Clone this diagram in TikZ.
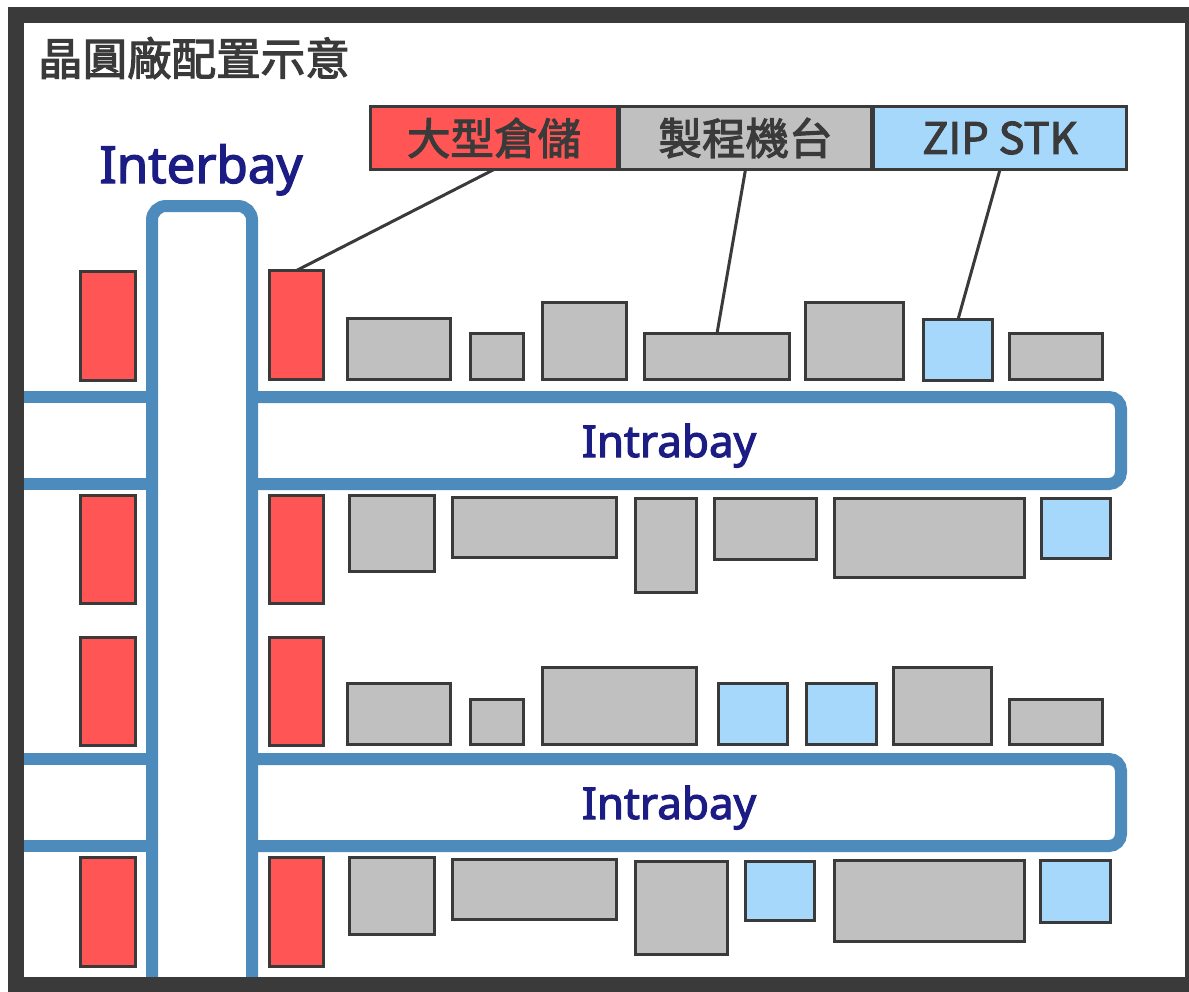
\documentclass[tikz,border=0pt]{standalone}
\usepackage{fontspec}
\newfontfamily\cjk[FakeBold=2.5]{Noto Sans CJK TC}
\newfontfamily\lat[FakeBold=2.5]{Noto Sans}
\definecolor{frame}{HTML}{3A3A3A}
\definecolor{loopc}{HTML}{4D8BBD}
\definecolor{redf}{HTML}{FF5555}
\definecolor{grayf}{HTML}{C0C0C0}
\definecolor{bluef}{HTML}{A6D8FC}
\definecolor{navy}{HTML}{1C1C85}
\tikzset{
  boxbase/.style={draw=frame, line width=3pt, inner sep=0pt, outer sep=0pt},
  redbox/.style={boxbase, fill=redf},
  graybox/.style={boxbase, fill=grayf},
  bluebox/.style={boxbase, fill=bluef},
  track/.style={draw=loopc, line width=12pt},
  leader/.style={draw=frame, line width=3pt},
  legtext/.style={text=frame, font=\cjk\fontsize{43.5}{48}\selectfont},
  looplabel/.style={text=navy, font=\lat\fontsize{44}{50}\selectfont, anchor=base}
}
\newcommand\mybox[6]{\node[#2, minimum width={#5-#3-3}, minimum height={#6-#4-3}] (#1) at ({(#3+#5)/2},{(#4+#6)/2}) {};}
\begin{document}
\begin{tikzpicture}[x=1pt,y=-1pt]
\useasboundingbox (0,0) rectangle (1189,991);
\clip (0,0) rectangle (1189,991);
\fill[white] (0,0) rectangle (1189,991);
% title
\node[anchor=west, inner sep=0pt, text=frame, font=\cjk\fontsize{44.5}{48}\selectfont] (title) at (38,58) {晶圓廠配置示意};
% interbay loop
\draw[track, rounded corners=14pt] (152,990) -- (152,206) -- (252,206) -- (252,990);
\draw[track] (16,397) -- (152,397);
\draw[track] (16,484) -- (152,484);
\draw[track] (16,759) -- (152,759);
\draw[track] (16,846) -- (152,846);
% intrabay loops
\draw[track, rounded corners=12pt] (252,397) -- (1121,397) -- (1121,484) -- (252,484);
\draw[track, rounded corners=12pt] (252,759) -- (1121,759) -- (1121,846) -- (252,846);
\node[looplabel, font=\lat\fontsize{51}{58}\selectfont] (inter) at (201,183) {Interbay};
\node[looplabel] (intra1) at (669,457) {Intrabay};
\node[looplabel] (intra2) at (669,819) {Intrabay};
% red stockers
\mybox{l1}{redbox}{79}{270}{137}{382}
\mybox{l2}{redbox}{79}{494}{137}{605}
\mybox{l3}{redbox}{79}{636}{137}{747}
\mybox{l4}{redbox}{79}{856}{137}{968}
\mybox{r1}{redbox}{268}{269}{325}{381}
\mybox{r2}{redbox}{268}{494}{325}{605}
\mybox{r3}{redbox}{268}{636}{325}{747}
\mybox{r4}{redbox}{268}{856}{325}{968}
% row 1
\mybox{a1}{graybox}{346}{317}{452}{381}
\mybox{a2}{graybox}{469}{332}{525}{381}
\mybox{a3}{graybox}{541}{301}{628}{381}
\mybox{a4}{graybox}{643}{332}{791}{381}
\mybox{a5}{graybox}{804}{301}{905}{381}
\mybox{a6}{bluebox}{922}{318}{994}{382}
\mybox{a7}{graybox}{1008}{332}{1104}{381}
% row 2
\mybox{b1}{graybox}{348}{494}{436}{573}
\mybox{b2}{graybox}{451}{496}{618}{559}
\mybox{b3}{graybox}{634}{497}{698}{594}
\mybox{b4}{graybox}{713}{497}{818}{561}
\mybox{b5}{graybox}{833}{497}{1026}{579}
\mybox{b6}{bluebox}{1040}{497}{1112}{560}
% row 3
\mybox{c1}{graybox}{346}{682}{452}{746}
\mybox{c2}{graybox}{469}{698}{525}{746}
\mybox{c3}{graybox}{541}{666}{698}{746}
\mybox{c4}{bluebox}{717}{682}{789}{746}
\mybox{c5}{bluebox}{805}{682}{878}{746}
\mybox{c6}{graybox}{892}{666}{993}{746}
\mybox{c7}{graybox}{1008}{698}{1104}{746}
% row 4
\mybox{d1}{graybox}{348}{856}{436}{936}
\mybox{d2}{graybox}{451}{858}{618}{921}
\mybox{d3}{graybox}{634}{860}{729}{956}
\mybox{d4}{bluebox}{744}{860}{816}{922}
\mybox{d5}{graybox}{833}{859}{1026}{943}
\mybox{d6}{bluebox}{1039}{859}{1112}{924}
% legend
\mybox{legR}{redbox}{369}{105}{619}{171}
\mybox{legG}{graybox}{618}{105}{873}{171}
\mybox{legB}{bluebox}{872}{105}{1128}{171}
\node[legtext] (tR) at (legR.center) {大型倉儲};
\node[legtext] (tG) at (legG.center) {製程機台};
\node[legtext] (tB) at (legB.center) {ZIP STK};
% leaders
\draw[leader] (legR.south) -- (r1.north);
\draw[leader] (legG.south) -- (a4.north);
\draw[leader] (legB.south) -- (a6.north);
% frame
\draw[frame, line width=16pt] (16,15) rectangle (1193,985);
\end{tikzpicture}
\end{document}
